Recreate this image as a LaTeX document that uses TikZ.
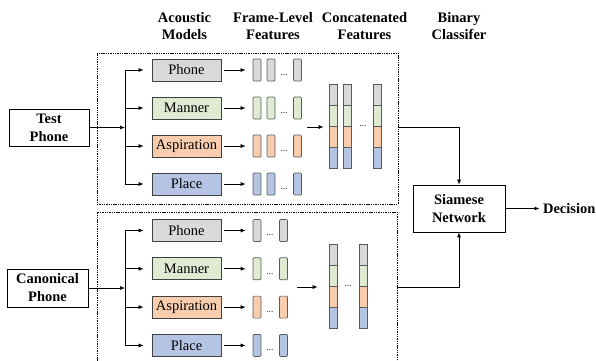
\documentclass[tikz,border=0pt]{standalone}
\usepackage{fontspec}
\setmainfont{Liberation Serif}
\usetikzlibrary{arrows.meta}

\definecolor{cgray}{HTML}{D9D9D9}
\definecolor{cgreen}{HTML}{E0EAD2}
\definecolor{corange}{HTML}{F8CDAE}
\definecolor{cblue}{HTML}{B6C4E4}
\definecolor{cedge}{HTML}{404040}
\definecolor{cbar}{HTML}{5A5A5A}

\tikzset{
  model/.style={draw=cedge, line width=0.8pt, minimum width=69pt, minimum height=22pt, inner sep=0pt},
  iobox/.style={draw=black, line width=0.8pt, font=\fontsize{14.5}{18}\selectfont\bfseries, align=center, inner sep=0pt},
  framebar/.style={draw=cbar, line width=0.7pt, rounded corners=1pt, minimum width=8pt, minimum height=22pt, inner sep=0pt},
  seg/.style={draw=cbar, line width=0.7pt, minimum width=8pt, minimum height=21pt, inner sep=0pt},
  arr/.style={-{Latex[length=5pt,width=4pt]}, line width=0.7pt},
  link/.style={line width=0.7pt},
  dashbox/.style={draw=black, line width=0.6pt, dash pattern=on 1.4pt off 0.9pt, inner sep=0pt},
  dotsnode/.style={font=\fontsize{9}{9}\selectfont, inner sep=0pt},
  head/.style={font=\fontsize{14.5}{17.5}\selectfont\bfseries, align=center, inner sep=0pt},
}

\begin{document}
\begin{tikzpicture}[x=1pt, y=-1pt, font=\fontsize{14.5}{18}\selectfont]
\clip (0,0) rectangle (596,360);

% column headings
\node[head] (hmodels) at (184.5,26) {Acoustic\\Models};
\node[head] (hframe)  at (273,26) {Frame-Level\\Features};
\node[head] (hconcat) at (364.5,26) {Concatenated\\Features};
\node[head] (hbin)    at (459,26) {Binary\\Classifer};

% dashed enclosures
\node[dashbox, minimum width=301pt, minimum height=151pt] (tbox) at (247.5,128.5) {};
\node[dashbox, minimum width=300pt, minimum height=168pt] (bbox) at (247,296) {};

% inputs
\node[iobox, minimum width=80pt, minimum height=37pt] (test) at (49,127.5) {Test\\Phone};
\node[iobox, minimum width=81pt, minimum height=38pt] (canon) at (47.5,288) {Canonical\\Phone};

% siamese network and decision
\node[iobox, minimum width=92pt, minimum height=47pt] (siam) at (459,208.5) {Siamese\\Network};
\node[font=\fontsize{14.5}{18}\selectfont\bfseries, anchor=west] (dec) at (539.5,208.5) {Decision};
\draw[arr] (siam.east) -- (dec.west);

% ---------- test branch ----------
\foreach \nm/\txt/\col [count=\i] in {ph/Phone/cgray, mn/Manner/cgreen, as/Aspiration/corange, pl/Place/cblue} {
  \pgfmathsetmacro\yy{70+38*(\i-1)}
  \node[model, fill=\col] (t\nm) at (186.5,\yy) {\txt};
  \coordinate (tb\nm) at (125,\yy);
  \draw[arr, shorten >=8pt] (tb\nm) -- (t\nm.west);
  \node[framebar, fill=\col] (tf\nm a) at (257,\yy) {};
  \node[framebar, fill=\col] (tf\nm b) at (271,\yy) {};
  \node[dotsnode] (tf\nm d) at (284,\yy+5) {...};
  \node[framebar, fill=\col] (tf\nm c) at (297.5,\yy) {};
  \draw[arr, shorten <=3pt, shorten >=7pt] (t\nm.east) -- (tf\nm a.west);
}
\draw[link] (tbph) -- (tbpl);
\coordinate (tin) at (125,127.5);
\draw[arr] (test.east) -- (tin);

% concatenated features (test)
\foreach \cx/\k in {333/a, 347/b, 377/c} {
  \foreach \nm/\col [count=\j] in {ph/cgray, mn/cgreen, as/corange, pl/cblue} {
    \node[seg, fill=\col] (tc\k\nm) at (\cx,{84+10.5+21*(\j-1)}) {};
  }
}
\node[dotsnode] (tcdots) at (363,126) {...};
\coordinate (tcin) at (307,127);
\draw[arr, shorten >=5pt] (tcin) -- (tcin -| tcamn.west);
\draw[arr] (tbox.east |- tcin) -| (siam.north);

% ---------- canonical branch ----------
\foreach \nm/\txt/\col [count=\i] in {ph/Phone/cgray, mn/Manner/cgreen, as/Aspiration/corange, pl/Place/cblue} {
  \pgfmathsetmacro\yy{230.5+38.3*(\i-1)}
  \node[model, fill=\col] (b\nm) at (186.5,\yy) {\txt};
  \coordinate (bb\nm) at (125,\yy);
  \draw[arr, shorten >=8pt] (bb\nm) -- (b\nm.west);
  \node[framebar, fill=\col] (bf\nm a) at (257,\yy) {};
  \node[dotsnode] (bf\nm d) at (270,\yy+5) {...};
  \node[framebar, fill=\col] (bf\nm b) at (283.5,\yy) {};
  \draw[arr, shorten <=3pt, shorten >=7pt] (b\nm.east) -- (bf\nm a.west);
}
\draw[link] (bbph) -- (bbpl);
\coordinate (bin) at (125,288);
\draw[arr] (canon.east) -- (bin);

% concatenated features (canonical)
\foreach \cx/\k in {333/a, 363.5/b} {
  \foreach \nm/\col [count=\j] in {ph/cgray, mn/cgreen, as/corange, pl/cblue} {
    \node[seg, fill=\col] (bc\k\nm) at (\cx,{244+10.5+21*(\j-1)}) {};
  }
}
\node[dotsnode] (bcdots) at (348,286) {...};
\coordinate (bcin) at (297,287);
\draw[arr, shorten >=11pt] (bcin) -- (bcin -| bcamn.west);
\draw[arr] (bbox.east |- bcin) -| (siam.south);
\end{tikzpicture}
\end{document}
